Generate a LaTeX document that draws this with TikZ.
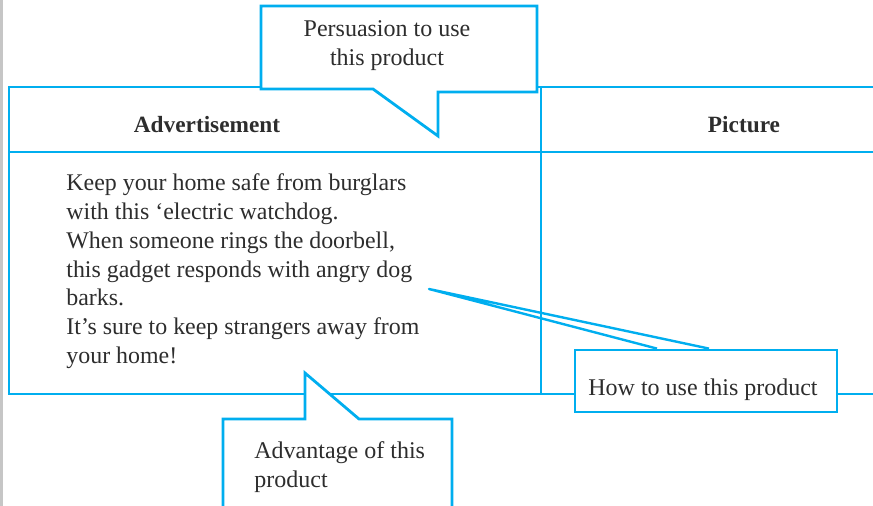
\documentclass[tikz,border=0pt]{standalone}
\usepackage{fontspec}
\setmainfont{Liberation Serif}
\usetikzlibrary{positioning}
\definecolor{bordercyan}{RGB}{0,174,239}
\definecolor{inkgray}{RGB}{45,45,45}

\begin{document}
\begin{tikzpicture}[
            x = 1pt, y = -1pt, % pixel grid of the page
            line width = 2.8pt,
            every node/.style = {inner sep = 0pt, text = inkgray},
            frame/.style = {draw = bordercyan},
            bubble/.style = {draw = bordercyan, fill = white},
            head/.style = {font = \fontsize{23.3}{27}\selectfont\bfseries, anchor = base},
            bodytext/.style = {font = \fontsize{23.9}{28.7}\selectfont, align = left},
            calltext/.style = {font = \fontsize{24}{28.6}\selectfont}
        ]

        \useasboundingbox (0,0) rectangle (873,506);
        \fill[gray!45] (0,0) rectangle (3,506);

        % table
        \draw[frame] (873,87) -- (9,87) -- (9,394) -- (873,394);
        \draw[frame] (9,152) -- (873,152);
        \draw[frame] (541,87) -- (541,394);

        \node[head] (adv) at (207,132) {Advertisement};
        \node[head] (pic) at (744,132) {Picture};

        \node[bodytext, anchor = north west] (ad) at (65,172.7) {Keep your home safe from burglars\\
            with this ‘electric watchdog.\\
            When someone rings the doorbell,\\
            this gadget responds with angry dog\\
            barks.\\
            It’s sure to keep strangers away from\\
            your home!};

        % callout: persuasion
        \draw[bubble] (261,6) -- (537,6) -- (537,92) -- (438,92) -- (438,136)
            -- (373,89) -- (261,89) -- cycle;
        \node[calltext, align = center, anchor = north] (persuade) at (387,19.5)
            {Persuasion to use\\this product};

        % callout: how to use
        \coordinate (tip) at (429,289);
        \node[bubble, minimum width = 262pt, minimum height = 62pt] (howbox) at (706,381) {};
        \node[calltext, anchor = base] (how) at (703,395) {How to use this product};
        \draw[bordercyan, line width = 2.4pt, line join = round]
            ([xshift = -49pt]howbox.north) -- (tip) -- ([xshift = 3pt]howbox.north);

        % callout: advantage
        \draw[bubble] (223,419) -- (305,419) -- (305,373) -- (359,419)
            -- (452,419) -- (452,512) -- (223,512) -- cycle;
        \node[calltext, align = left, anchor = north west] (advantage) at (253,440.3)
            {Advantage of this\\product};

\end{tikzpicture}
\end{document}
